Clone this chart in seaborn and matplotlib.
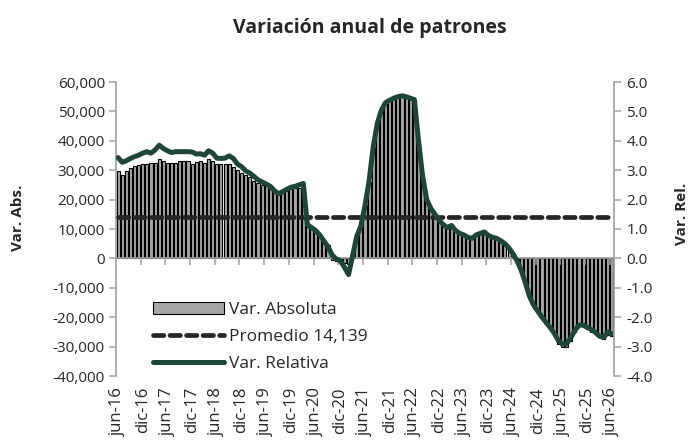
import pandas as pd
import matplotlib
matplotlib.use("Agg")
import matplotlib.pyplot as plt
from matplotlib.ticker import FuncFormatter
from matplotlib.patches import Patch
from matplotlib.lines import Line2D
import seaborn as sns

# %% datos (jun-16 a jun-26, mensual)

var_abs = [
    29800, 28300, 29600, 30600, 31300, 31800, 32000, 32000, 32500, 32500,
    33700, 33200, 32600, 32500, 32500, 33000, 33000, 33000, 32200, 32700,
    33000, 32400, 33700, 33200, 32000, 32000, 32000, 32000, 31000, 30200,
    29200, 28500, 27800, 26400, 25500, 25000, 24700, 23600, 22400, 21900,
    22500, 23000, 23500, 23800, 24000, 24100, 10600, 10000, 8800, 7800,
    6000, 4500, -500, -1000, -1200, -1500, -1900, 1000, 7500, 11000,
    18000, 26000, 38000, 46000, 50500, 53000, 53800, 54500, 55000, 55300,
    55000, 54500, 54000, 40000, 28000, 20000, 17000, 15000, 13000, 11500,
    10500, 11200, 9500, 8500, 8000, 7200, 6800, 8000, 8500, 9000,
    7800, 7200, 6800, 6000, 5000, 3500, 1500, -1000, -4200, -8500,
    -13000, -16000, -18000, -20000, -22000, -24000, -26000, -29000, -30000, -30000,
    -28000, -25000, -23000, -23000, -24000, -25000, -25500, -26500, -27500, -26000,
    -26500,
]

var_rel = [
    3.43, 3.27, 3.32, 3.40, 3.46, 3.51, 3.58, 3.63, 3.58, 3.69,
    3.85, 3.74, 3.66, 3.60, 3.63, 3.63, 3.63, 3.63, 3.62, 3.55,
    3.56, 3.51, 3.66, 3.58, 3.41, 3.40, 3.41, 3.49, 3.40, 3.21,
    3.12, 2.98, 2.90, 2.79, 2.67, 2.60, 2.53, 2.45, 2.30, 2.20,
    2.27, 2.35, 2.42, 2.45, 2.50, 2.55, 1.15, 1.05, 0.95, 0.80,
    0.60, 0.40, 0.12, -0.02, -0.08, -0.30, -0.55, 0.10, 0.75, 1.10,
    1.80, 2.64, 3.80, 4.60, 5.05, 5.30, 5.38, 5.45, 5.50, 5.53,
    5.50, 5.45, 5.40, 4.00, 2.80, 2.00, 1.70, 1.50, 1.30, 1.15,
    1.05, 1.12, 0.95, 0.85, 0.80, 0.72, 0.68, 0.80, 0.85, 0.90,
    0.78, 0.72, 0.68, 0.60, 0.50, 0.35, 0.15, -0.10, -0.42, -0.85,
    -1.30, -1.60, -1.80, -2.00, -2.18, -2.35, -2.55, -2.80, -2.92, -2.90,
    -2.70, -2.45, -2.27, -2.27, -2.35, -2.42, -2.52, -2.65, -2.69, -2.50,
    -2.57,
]

promedio = 14139

tick_labels = [
    "jun-16", "dic-16", "jun-17", "dic-17", "jun-18", "dic-18", "jun-19",
    "dic-19", "jun-20", "dic-20", "jun-21", "dic-21", "jun-22", "dic-22",
    "jun-23", "dic-23", "jun-24", "dic-24", "jun-25", "dic-25", "jun-26",
]

df = pd.DataFrame({"mes": range(len(var_abs)), "abs": var_abs, "rel": var_rel})
df["prom"] = promedio

# %% grafico

sns.set_theme(style="white")
plt.rcParams["font.family"] = ["Open Sans", "DejaVu Sans"]

gris = "#a6a6a6"
eje = "#a0a0a0"
verde = "#1d4636"

fig = plt.figure(figsize=(6.92, 4.45), dpi=100)
ax = fig.add_axes([116 / 692, 1 - 376 / 445, 498 / 692, 294 / 445])

sns.barplot(data=df, x="mes", y="abs", color=gris, saturation=1, width=0.75,
            edgecolor="black", linewidth=0.8, ax=ax)
sns.lineplot(data=df, x="mes", y="prom", color="#262626", linewidth=3.4,
             dashes=False, ax=ax, zorder=4)
ax.lines[-1].set_dashes((2.2, 1.3))
ax.lines[-1].set_dash_capstyle("round")

ax2 = ax.twinx()
sns.lineplot(data=df, x="mes", y="rel", color=verde, linewidth=3.6, ax=ax2)
ax2.lines[-1].set_solid_joinstyle("round")
ax2.lines[-1].set_solid_capstyle("round")

ax.set_xlim(-0.5, len(df) - 0.5)
ax.set_ylim(-40000, 60000)
ax2.set_ylim(-4, 6)
ax.set_yticks(range(-40000, 60001, 10000))
ax2.set_yticks([-4, -3, -2, -1, 0, 1, 2, 3, 4, 5, 6])
ax.yaxis.set_major_formatter(FuncFormatter(lambda v, p: f"{v:,.0f}"))
ax2.yaxis.set_major_formatter(FuncFormatter(lambda v, p: f"{v:.1f}"))

ax.set_xticks(range(0, len(df), 6))
ax.set_xticklabels(tick_labels, rotation=90, fontsize=12)
ax.tick_params(axis="x", length=0, pad=8)
ax.tick_params(axis="y", length=5, width=1.1, color=eje, labelsize=11, pad=3, left=True)
ax2.tick_params(axis="y", length=5, width=1.1, color=eje, labelsize=11, pad=4, right=True)
ax.set_xlabel("")
ax.set_ylabel("")
ax2.set_ylabel("")

for a in (ax, ax2):
    a.spines["top"].set_visible(False)
    a.spines["bottom"].set_visible(False)
ax.spines["right"].set_visible(False)
ax2.spines["left"].set_visible(False)
ax.spines["left"].set_color(eje)
ax.spines["left"].set_linewidth(1.2)
ax2.spines["right"].set_color(eje)
ax2.spines["right"].set_linewidth(1.2)

# eje horizontal en cero con marcas cada 6 meses
sec = ax.secondary_xaxis(0.4)
sec.set_xticks([m - 0.5 for m in range(6, len(df), 6)])
sec.tick_params(axis="x", length=5, width=1.1, color=eje, labelbottom=False, labeltop=False)
sec.spines["bottom"].set_color(eje)
sec.spines["bottom"].set_linewidth(1.2)
sec.set_zorder(3)

# leyenda
handles = [
    Patch(facecolor=gris, edgecolor="black", linewidth=0.8),
    Line2D([], [], color="#262626", linewidth=3.4, dashes=(2.2, 1.3), dash_capstyle="round"),
    Line2D([], [], color=verde, linewidth=3.6, solid_capstyle="round"),
]
ax2.legend(handles, ["Var. Absoluta", "Promedio 14,139", "Var. Relativa"],
           loc="upper left", bbox_to_anchor=(0.074, 0.252), frameon=False,
           fontsize=12.5, handlelength=4.1, handletextpad=0.3, labelspacing=0.62,
           borderpad=0, borderaxespad=0)

fig.text(370 / 692, 1 - 28 / 445, "Variación anual de patrones", ha="center",
         va="center", fontsize=14, fontweight="bold")
fig.text(18 / 692, 1 - 218 / 445, "Var. Abs.", rotation=90, ha="center",
         va="center", fontsize=11, fontweight="bold")
fig.text(682 / 692, 1 - 214 / 445, "Var. Rel.", rotation=90, ha="center",
         va="center", fontsize=11, fontweight="bold")

fig.savefig("out.png", dpi=100)
